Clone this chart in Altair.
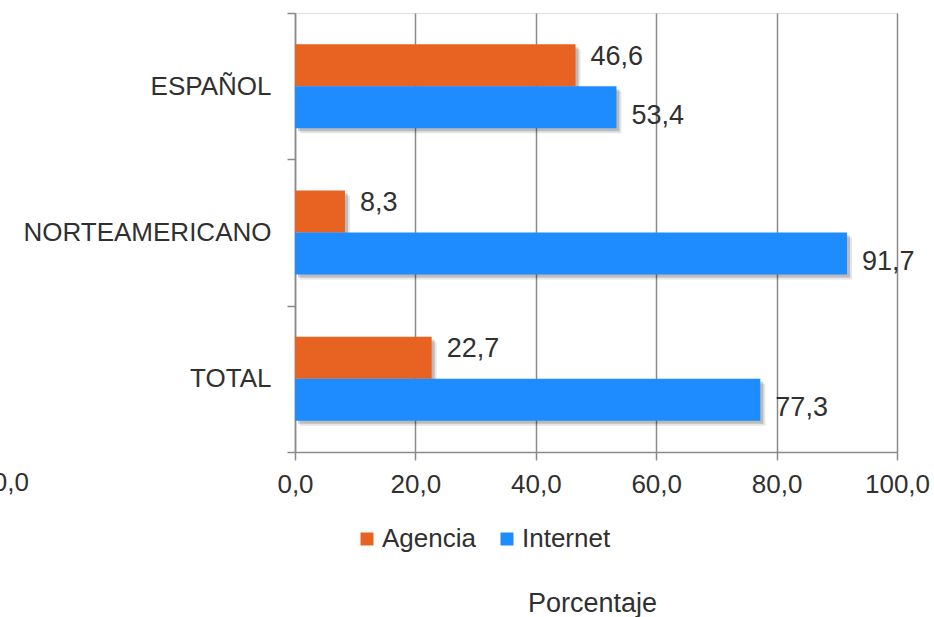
import altair as alt
import pandas as pd

# Share of purchases by channel, per market
categories = ["ESPAÑOL", "NORTEAMERICANO", "TOTAL"]
agencia = [46.6, 8.3, 22.7]
internet = [53.4, 91.7, 77.3]
series = ["Agencia", "Internet"]
colors = ["#E86222", "#1E8BFF"]
x_ticks = [0, 20, 40, 60, 80, 100]

rows = []
for c, a, i in zip(categories, agencia, internet):
    rows.append({"cat": c, "serie": "Agencia", "value": a})
    rows.append({"cat": c, "serie": "Internet", "value": i})
df = pd.DataFrame(rows)

TXT = "#303030"
GRID = "#8A8A8A"
FONT = "Liberation Sans"
FS = 26
W, H = 602, 439

comma = "replace(format(datum.value, '.1f'), '.', ',')"

y_enc = alt.Y(
    "cat:N",
    sort=categories,
    scale=alt.Scale(paddingInner=0, paddingOuter=0),
    axis=alt.Axis(
        title=None,
        tickBand="extent",
        tickSize=8,
        tickWidth=1.5,
        tickColor=GRID,
        domainColor=GRID,
        domainWidth=1.5,
        labelFontSize=FS,
        labelColor=TXT,
        labelPadding=16,
        labelFont=FONT,
        labelLimit=0,
        grid=False,
    ),
)

x_enc = alt.X(
    "value:Q",
    scale=alt.Scale(domain=[0, 100], nice=False),
    axis=alt.Axis(
        values=x_ticks,
        labelExpr=comma,
        labelFlush=False,
        labelOverlap=False,
        labelBound=False,
        grid=True,
        gridColor=GRID,
        gridWidth=1.5,
        domainColor=GRID,
        domainWidth=1.5,
        tickColor=GRID,
        tickWidth=1.5,
        tickSize=8,
        labelFontSize=FS,
        labelColor=TXT,
        labelFont=FONT,
        labelPadding=11,
        title="Porcentaje",
        titleFontSize=27,
        titleFontWeight="normal",
        titleColor=TXT,
        titleFont=FONT,
        titlePadding=93,
        titleX=297,
    ),
)


def offset_scale(align):
    return alt.Scale(paddingInner=0, paddingOuter=0.742, align=align)


base = alt.Chart(df)

# soft drop shadow under each bar
shadow_far = base.mark_bar(color="#000000", opacity=0.10, xOffset=5, x2Offset=5).encode(
    x=x_enc,
    y=y_enc,
    yOffset=alt.YOffset("serie:N", sort=series, scale=offset_scale(0.58)),
)
shadow_near = base.mark_bar(color="#000000", opacity=0.18, xOffset=3, x2Offset=3).encode(
    x=x_enc,
    y=y_enc,
    yOffset=alt.YOffset("serie:N", sort=series, scale=offset_scale(0.548)),
)

bars = base.mark_bar().encode(
    x=x_enc,
    y=y_enc,
    yOffset=alt.YOffset("serie:N", sort=series, scale=offset_scale(0.5)),
    color=alt.Color(
        "serie:N",
        sort=series,
        scale=alt.Scale(domain=series, range=colors),
        legend=alt.Legend(
            title=None,
            orient="none",
            direction="horizontal",
            legendX=59,
            legendY=513,
            symbolType="square",
            symbolSize=169,
            symbolStrokeWidth=0,
            labelFontSize=FS,
            labelColor=TXT,
            labelFont=FONT,
            labelOffset=2,
            columnPadding=18,
        ),
    ),
)

labels = base.transform_calculate(lbl=comma).mark_text(
    align="left", baseline="middle", dx=15, fontSize=27, color=TXT, font=FONT
).encode(
    x=x_enc,
    y=y_enc,
    yOffset=alt.YOffset("serie:N", sort=series, scale=offset_scale(0.5)),
    text="lbl:N",
)

# stray label cut off at the left edge
stray = alt.Chart(pd.DataFrame({"t": ["100,0"]})).mark_text(
    align="right", baseline="middle", fontSize=FS, color=TXT, font=FONT
).encode(text="t:N", x=alt.value(-266), y=alt.value(470))

chart = (
    alt.layer(shadow_far, shadow_near, bars, labels, stray)
    .resolve_scale(yOffset="independent")
    .properties(
        width=W,
        height=H,
        autosize=alt.AutoSizeParams(type="none"),
        padding={"left": 295, "top": 13, "right": 37, "bottom": 165},
    )
    .configure_view(strokeWidth=0)
    .configure(font=FONT, background="white")
)

chart.save("out.html", embed_options={"renderer": "svg", "actions": False})
